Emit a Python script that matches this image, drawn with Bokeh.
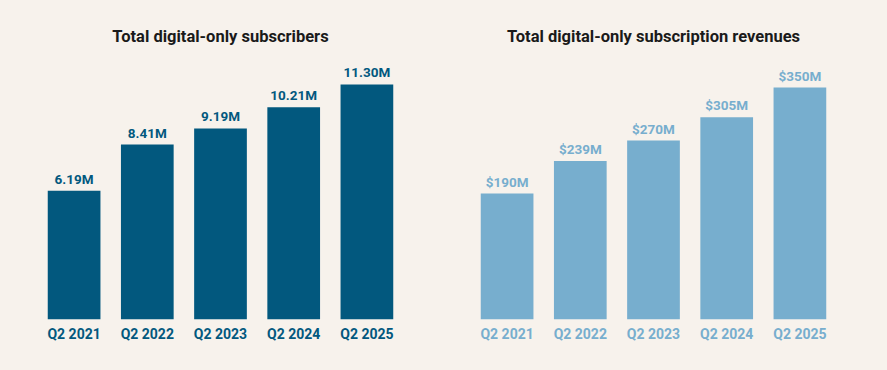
from bokeh.plotting import figure
from bokeh.layouts import row
from bokeh.models import ColumnDataSource, Range1d
from bokeh.core.properties import value
from bokeh.embed import file_html
from bokeh.resources import INLINE

quarters = ["Q2 2021", "Q2 2022", "Q2 2023", "Q2 2024", "Q2 2025"]
subscribers = [6.19, 8.41, 9.19, 10.21, 11.30]
subscriber_labels = ["6.19M", "8.41M", "9.19M", "10.21M", "11.30M"]
revenues = [190, 239, 270, 305, 350]
revenue_labels = ["$190M", "$239M", "$270M", "$305M", "$350M"]

BG = "#f7f2ec"
DARK = "#02587e"
LIGHT = "#77aece"
FONT = "Roboto"


def make_panel(title, vals, labels, color, ymax, width, bl, br):
    src = ColumnDataSource(dict(x=quarters, top=vals, lab=labels))
    p = figure(x_range=quarters, y_range=Range1d(0, ymax), width=width, height=370,
               output_backend="svg", toolbar_location=None, title=title,
               min_border_left=bl, min_border_right=br, min_border_top=58,
               min_border_bottom=51)
    p.vbar(x="x", top="top", width=0.72, source=src, color=color, line_color=None)
    p.text(x="x", y="top", text="lab", source=src, text_align="center",
           text_baseline="bottom", y_offset=-4, text_color=color,
           text_font=value(FONT), text_font_style="bold", text_font_size="13.5px")
    p.title.align = "center"
    p.title.text_font = FONT
    p.title.text_font_size = "16.5px"
    p.title.text_font_style = "bold"
    p.title.text_color = "#1a1a1a"
    p.title.standoff = 25
    p.background_fill_color = BG
    p.border_fill_color = BG
    p.outline_line_color = None
    p.xgrid.grid_line_color = None
    p.ygrid.grid_line_color = None
    p.yaxis.visible = False
    p.xaxis.axis_line_color = None
    p.xaxis.major_tick_line_color = None
    p.xaxis.minor_tick_line_color = None
    p.xaxis.major_tick_out = 0
    p.xaxis.major_tick_in = 0
    p.xaxis.major_label_standoff = 6
    p.xaxis.major_label_text_font = FONT
    p.xaxis.major_label_text_font_style = "bold"
    p.xaxis.major_label_text_font_size = "14px"
    p.xaxis.major_label_text_color = color
    p.x_range.range_padding = 0
    return p


left = make_panel("Total digital-only subscribers", subscribers, subscriber_labels,
                  DARK, 12.55, 443, 37, 40)
right = make_panel("Total digital-only subscription revenues", revenues, revenue_labels,
                   LIGHT, 393.8, 444, 27, 51)

layout = row(left, right)
html = file_html(layout, INLINE)
html = html.replace("</head>", "<style>html, body { background: %s; }</style></head>" % BG, 1)
open("out.html", "w").write(html)
